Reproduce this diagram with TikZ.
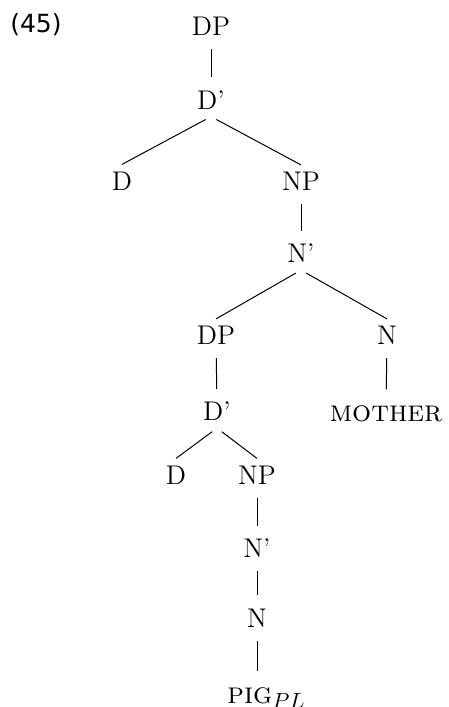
\documentclass[tikz,border=0pt]{standalone}
\usepackage{fontspec}
\newfontfamily\exfont{DejaVu Sans}
\usetikzlibrary{calc}

\begin{document}
\begin{tikzpicture}[x=0.5pt, y=-0.5pt,
  cat/.style={inner xsep=1pt, inner ysep=3.5pt, text height=9.2pt,
    text depth=0pt, font=\fontsize{13.5}{16}\selectfont},
  word/.style={cat, font=\fontsize{15}{18}\selectfont\scshape},
  uni/.style={line width=0.5pt, shorten <=3pt, shorten >=3pt},
  bin/.style={line width=0.5pt, shorten <=3pt}]
  \useasboundingbox (0,0) rectangle (449,707);

  % Example number
  \node[font=\exfont\fontsize{12.5}{15}\selectfont] (ex) at (36,25) {(45)};

  % Upper DP
  \node[cat] (dp1) at (211,26.5) {DP};
  \node[cat] (dbar1) at (211,100) {D'};
  \node[cat] (d1) at (122,181) {D};
  \node[cat] (np1) at (301,181.5) {NP};
  \node[cat] (nbar1) at (301,253.5) {N'};

  % Possessor and head noun
  \node[cat] (dp2) at (216,335.5) {DP};
  \node[cat] (n1) at (387,335.5) {N};
  \node[cat] (dbar2) at (217,411.5) {D'};
  \node[word] (mother) at (386,412) {mother};

  % Lower DP
  \node[cat] (d2) at (176,475) {D};
  \node[cat] (np2) at (257,475) {NP};
  \node[cat] (nbar2) at (257,548.5) {N'};
  \node[cat] (n2) at (257,618) {N};
  \node[word, anchor=west] (pig) at (225,694) {pig$_{PL}$};

  \draw[uni] (dp1) -- (dbar1);
  \draw[bin] (dbar1.south) -- (d1.north);
  \draw[bin] (dbar1.south) -- (np1.north);
  \draw[uni] (np1) -- (nbar1);
  \draw[bin] (nbar1.south) -- (dp2.north);
  \draw[bin] (nbar1.south) -- (n1.north);
  \draw[uni] (dp2) -- (dbar2);
  \draw[uni] (n1) -- (mother);
  \draw[bin] (dbar2.south) -- (d2.north);
  \draw[bin] (dbar2.south) -- (np2.north);
  \draw[uni] (np2) -- (nbar2);
  \draw[uni] (nbar2) -- (n2);
  \draw[uni] (n2.south) -- (n2.south |- pig.north);
\end{tikzpicture}
\end{document}
